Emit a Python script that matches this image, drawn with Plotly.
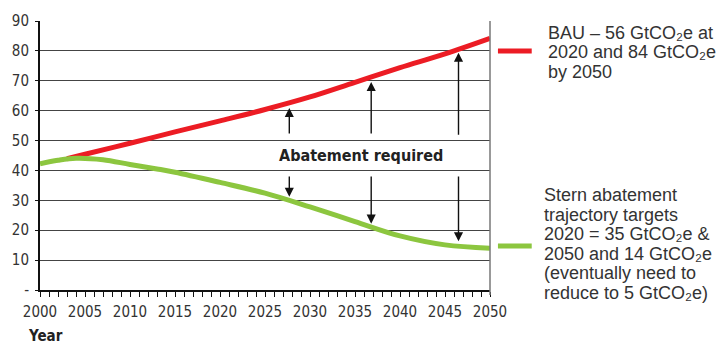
import plotly.graph_objects as go

# ---- data ----
bau_years = [2003, 2005, 2010, 2015, 2020, 2025, 2030, 2035, 2040, 2045, 2050]
bau_values = [43.9, 45.4, 49.1, 52.9, 56.6, 60.4, 64.6, 69.5, 74.4, 79.0, 84.2]

stern_years = [2000, 2002, 2004, 2007, 2010, 2013, 2015, 2020, 2025, 2030, 2035, 2040, 2045, 2050]
stern_values = [42.2, 43.4, 44.1, 43.6, 42.0, 40.5, 39.4, 36.0, 32.4, 27.8, 22.9, 18.1, 15.1, 14.0]

arrow_years = [2027.7, 2036.8, 2046.5]
up_tails = [51.9, 51.9, 51.4]
up_tips = [60.9, 69.6, 79.4]
down_tails = [38.5, 38.5, 38.5]
down_tips = [31.2, 22.2, 16.3]

y_tickvals = [0, 10, 20, 30, 40, 50, 60, 70, 80, 90]
y_ticktext = ["-", "10", "20", "30", "40", "50", "60", "70", "80", "90"]
x_tickvals = [2000, 2005, 2010, 2015, 2020, 2025, 2030, 2035, 2040, 2045, 2050]

bau_label = ["BAU – 56 GtCO₂e at", "2020 and 84 GtCO₂e", "by 2050"]
stern_label = ["Stern abatement", "trajectory targets", "2020 = 35 GtCO₂e &",
               "2050 and 14 GtCO₂e", "(eventually need to", "reduce to 5 GtCO₂e)"]

RED = "#EC1C24"
GREEN = "#8CC63F"
W, H = 723, 345
ML, MR, MT, MB = 37, 233, 15, 55
PW = W - ML - MR
PH = H - MT - MB

def px_x(p):
    return (p - ML) / PW

def px_y(p):
    return (H - MB - p) / PH

COND = "Liberation Sans Narrow, Arial Narrow, DejaVu Sans Condensed, sans-serif"
SANS = "Liberation Sans, Arial, Helvetica, sans-serif"

fig = go.Figure()
fig.add_trace(go.Scatter(x=bau_years, y=bau_values, mode="lines",
                         line=dict(color=RED, width=5, shape="spline"), showlegend=False,
                         cliponaxis=False))
fig.add_trace(go.Scatter(x=stern_years, y=stern_values, mode="lines",
                         line=dict(color=GREEN, width=5, shape="spline"), showlegend=False,
                         cliponaxis=False))

annotations = []
for yr, t0, t1 in zip(arrow_years, up_tails, up_tips):
    annotations.append(dict(x=yr, y=t1, ax=yr, ay=t0, xref="x", yref="y", axref="x", ayref="y",
                            showarrow=True, arrowhead=2, arrowsize=1.3, arrowwidth=1.4,
                            arrowcolor="#111", text=""))
for yr, t0, t1 in zip(arrow_years, down_tails, down_tips):
    annotations.append(dict(x=yr, y=t1, ax=yr, ay=t0, xref="x", yref="y", axref="x", ayref="y",
                            showarrow=True, arrowhead=2, arrowsize=1.3, arrowwidth=1.4,
                            arrowcolor="#111", text=""))

annotations.append(dict(x=px_x(360), y=px_y(153), xref="paper", yref="paper", showarrow=False,
                        xanchor="center", yanchor="middle",
                        text="<b>Abatement required</b>",
                        font=dict(family=COND, size=16, color="#222")))
annotations.append(dict(x=px_x(43), y=px_y(337), xref="paper", yref="paper", showarrow=False,
                        xanchor="center", yanchor="middle",
                        text="<b>Year</b>", font=dict(family=COND, size=15, color="#222")))

for i, line in enumerate(bau_label):
    annotations.append(dict(x=px_x(546), y=px_y(27 + 20 * i), xref="paper", yref="paper",
                            xanchor="left", yanchor="middle", showarrow=False, text=line,
                            font=dict(family=SANS, size=18, color="#333")))
for i, line in enumerate(stern_label):
    annotations.append(dict(x=px_x(542), y=px_y(193 + 20 * i), xref="paper", yref="paper",
                            xanchor="left", yanchor="middle", showarrow=False, text=line,
                            font=dict(family=SANS, size=18, color="#333")))

shapes = [
    dict(type="line", xref="paper", yref="paper", x0=px_x(498), x1=px_x(532),
         y0=px_y(45.7), y1=px_y(45.7), line=dict(color=RED, width=5)),
    dict(type="line", xref="paper", yref="paper", x0=px_x(498), x1=px_x(532),
         y0=px_y(245), y1=px_y(245), line=dict(color=GREEN, width=5)),
    dict(type="line", xref="paper", yref="paper", x0=1, x1=1, y0=px_y(295), y1=1,
         line=dict(color="#777", width=1.5)),
]

fig.update_layout(
    width=W, height=H, margin=dict(l=ML, r=MR, t=MT, b=MB),
    paper_bgcolor="white", plot_bgcolor="white",
    annotations=annotations, shapes=shapes,
    xaxis=dict(range=[2000, 2050], tickvals=x_tickvals, ticks="outside", ticklen=5, tickwidth=1,
               tickcolor="#111", showline=True, linecolor="#111", linewidth=2, showgrid=False,
               zeroline=False, tickfont=dict(family=COND, size=15, color="#333"),
               ticklabelstandoff=2,
               minor=dict(dtick=1, tick0=2000, ticks="outside", ticklen=5, tickcolor="#111",
                          tickwidth=1, showgrid=False)),
    yaxis=dict(range=[0, 90], tickvals=y_tickvals, ticktext=y_ticktext, ticks="outside", ticklen=3,
               tickcolor="#111", showline=True, linecolor="#111", linewidth=2, showgrid=True,
               gridcolor="#444", gridwidth=1, zeroline=False, ticklabelstandoff=3,
               tickfont=dict(family=COND, size=15, color="#333")),
)

fig.write_html("out.html")
